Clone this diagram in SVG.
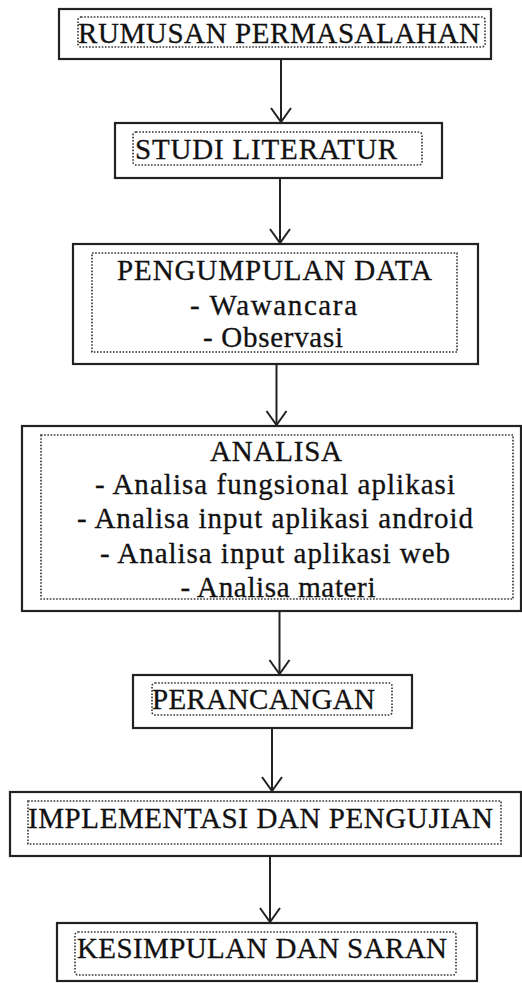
<svg xmlns="http://www.w3.org/2000/svg" width="522" height="983" viewBox="0 0 522 983">
  <style>
    .outer { fill: #ffffff; stroke: #222222; stroke-width: 2.2; }
    .inner { fill: none; stroke: #333333; stroke-width: 1.6; stroke-dasharray: 1.6 1.6; }
    .lbl { font-family: "Liberation Serif", "Times New Roman", serif; font-size: 29px; fill: #111111; stroke: #111111; stroke-width: 0.3; text-anchor: middle; }
    .conn { stroke: #222222; stroke-width: 2; fill: none; marker-end: url(#vhead); }
  </style>
  <defs>
    <!-- open V arrowhead, tip at the line end -->
    <marker id="vhead" markerUnits="userSpaceOnUse" markerWidth="22" markerHeight="26" viewBox="-17 -13 22 26" refX="0" refY="0" orient="auto" overflow="visible">
      <path d="M -14 -10 L 0 0 L -14 10" fill="none" stroke="#222222" stroke-width="2"/>
    </marker>
  </defs>
  <rect width="522" height="983" fill="#ffffff"/>

  <!-- connectors between the steps -->
  <g id="connectors">
    <line class="conn" x1="281" y1="59" x2="281" y2="122"/>
    <line class="conn" x1="280" y1="178" x2="280" y2="243"/>
    <line class="conn" x1="276.5" y1="364" x2="276.5" y2="425"/>
    <line class="conn" x1="279.5" y1="611" x2="279.5" y2="674"/>
    <line class="conn" x1="272" y1="728" x2="272" y2="791"/>
    <line class="conn" x1="270" y1="856" x2="270" y2="922"/>
  </g>

  <g id="rumusan">
    <rect class="outer" x="59" y="9" width="432" height="50"/>
    <rect class="inner" x="78" y="17" width="407" height="30" rx="3"/>
    <text class="lbl" x="279" y="43" textLength="402" lengthAdjust="spacing">RUMUSAN PERMASALAHAN</text>
  </g>

  <g id="studi">
    <rect class="outer" x="115" y="123" width="327" height="55"/>
    <rect class="inner" x="133" y="132" width="289" height="33" rx="3"/>
    <text class="lbl" x="266" y="159" textLength="262" lengthAdjust="spacing">STUDI LITERATUR</text>
  </g>

  <g id="pengumpulan">
    <rect class="outer" x="73" y="244" width="405" height="120"/>
    <rect class="inner" x="92" y="253" width="365" height="99"/>
    <text class="lbl" x="274.5" y="280" textLength="315" lengthAdjust="spacing">PENGUMPULAN DATA</text>
    <text class="lbl" x="273.5" y="315" textLength="167" lengthAdjust="spacing">- Wawancara</text>
    <text class="lbl" x="273" y="347" textLength="140" lengthAdjust="spacing">- Observasi</text>
  </g>

  <g id="analisa">
    <rect class="outer" x="22" y="426" width="499" height="185"/>
    <rect class="inner" x="41" y="435" width="472" height="164"/>
    <text class="lbl" x="276" y="461" textLength="132" lengthAdjust="spacing">ANALISA</text>
    <text class="lbl" x="275" y="494" textLength="360" lengthAdjust="spacing">- Analisa fungsional aplikasi</text>
    <text class="lbl" x="275" y="528" textLength="396" lengthAdjust="spacing">- Analisa input aplikasi android</text>
    <text class="lbl" x="275" y="563" textLength="350" lengthAdjust="spacing">- Analisa input aplikasi web</text>
    <text class="lbl" x="278" y="597" textLength="195" lengthAdjust="spacing">- Analisa materi</text>
  </g>

  <g id="perancangan">
    <rect class="outer" x="133" y="675" width="279" height="53"/>
    <rect class="inner" x="152" y="683" width="240" height="32" rx="3"/>
    <text class="lbl" x="263.5" y="709" textLength="223" lengthAdjust="spacing">PERANCANGAN</text>
  </g>

  <g id="implementasi">
    <rect class="outer" x="10" y="792" width="511" height="64"/>
    <rect class="inner" x="28" y="801" width="473" height="43"/>
    <text class="lbl" x="260.5" y="828" textLength="465" lengthAdjust="spacing">IMPLEMENTASI DAN PENGUJIAN</text>
  </g>

  <g id="kesimpulan">
    <rect class="outer" x="57" y="923" width="420" height="58"/>
    <rect class="inner" x="75" y="932" width="381" height="43" rx="3"/>
    <text class="lbl" x="262" y="958" textLength="370" lengthAdjust="spacing">KESIMPULAN DAN SARAN</text>
  </g>
</svg>
